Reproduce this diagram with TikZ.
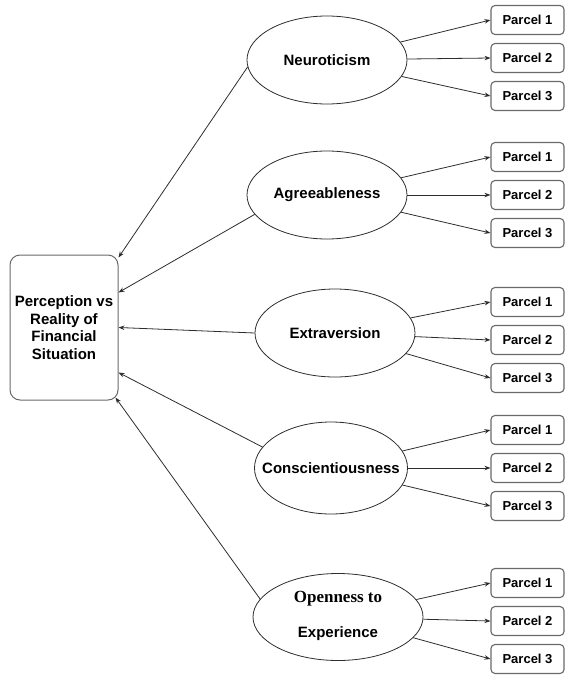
\documentclass[tikz,border=0pt]{standalone}
\usepackage{fontspec}
\setmainfont{Liberation Sans}
\newfontfamily\timesfont{Liberation Serif}
\usepackage{tikz}
\usetikzlibrary{positioning, arrows.meta, shapes.geometric}
\definecolor{lineGray}{RGB}{45, 45, 45}
\definecolor{boxGray}{RGB}{105, 105, 105}

\begin{document}
\begin{tikzpicture}[
        x=1pt, y=-1pt,
        trait/.style={ellipse, draw=lineGray, line width=0.8pt, minimum width=160pt, minimum height=88pt,
            inner sep=0pt, font=\fontsize{15}{17}\selectfont\bfseries},
        parcel/.style={rectangle, rounded corners=4pt, draw=boxGray, line width=1.1pt, minimum width=73pt,
            minimum height=29pt, inner sep=0pt, font=\fontsize{13}{15}\selectfont\bfseries},
        outcome/.style={rectangle, rounded corners=10pt, draw=boxGray, line width=1pt, minimum width=108pt,
            minimum height=145pt, align=center, font=\fontsize{15}{17.5}\selectfont\bfseries},
        arr/.style={-{Stealth[length=6pt, width=4.5pt]}, line width=0.8pt, lineGray}
    ]
    \useasboundingbox (0,0) rectangle (565,675);
    \node[outcome] (out) at (64,327.5) {Perception vs\\Reality of\\Financial\\Situation};
    \node[trait] (neu) at (327,60)  {Neuroticism};
    \node[trait] (agr) at (327,195) {Agreeableness};
    \node[trait] (ext) at (335,333) {Extraversion};
    \node[trait, minimum width=153pt, minimum height=92pt] (con) at (331,468) {\makebox[0pt]{Conscientiousness}};
    \node[trait, minimum width=170pt, minimum height=87pt] (ope) at (338,617)
        {\raisebox{12pt}{\begin{tabular}{@{}c@{}}{\timesfont\fontsize{17}{17}\selectfont Openness to}\\[18pt] Experience\end{tabular}}};
    % three parcels per trait
    \foreach \t/\y in {neu/58, agr/195, ext/340, con/468, ope/621}
        \foreach \k in {1,2,3} {
            \node[parcel] (\t-\k) at (527.5,\y+38*\k-76) {Parcel \k};
            \draw[arr] (\t) -- (\t-\k.west);
        }
    \draw[arr] (neu.185) -- ([yshift=-3pt]out.north east);
    \draw[arr] (agr.195) -- ([yshift=35pt]out.east);
    \draw[arr] (ext.west) -- (out.east);
    \draw[arr] (con.163) -- ([yshift=-45pt]out.east);
    \draw[arr] (ope.167) -- ([xshift=-3pt, yshift=3pt]out.south east);
\end{tikzpicture}
\end{document}
